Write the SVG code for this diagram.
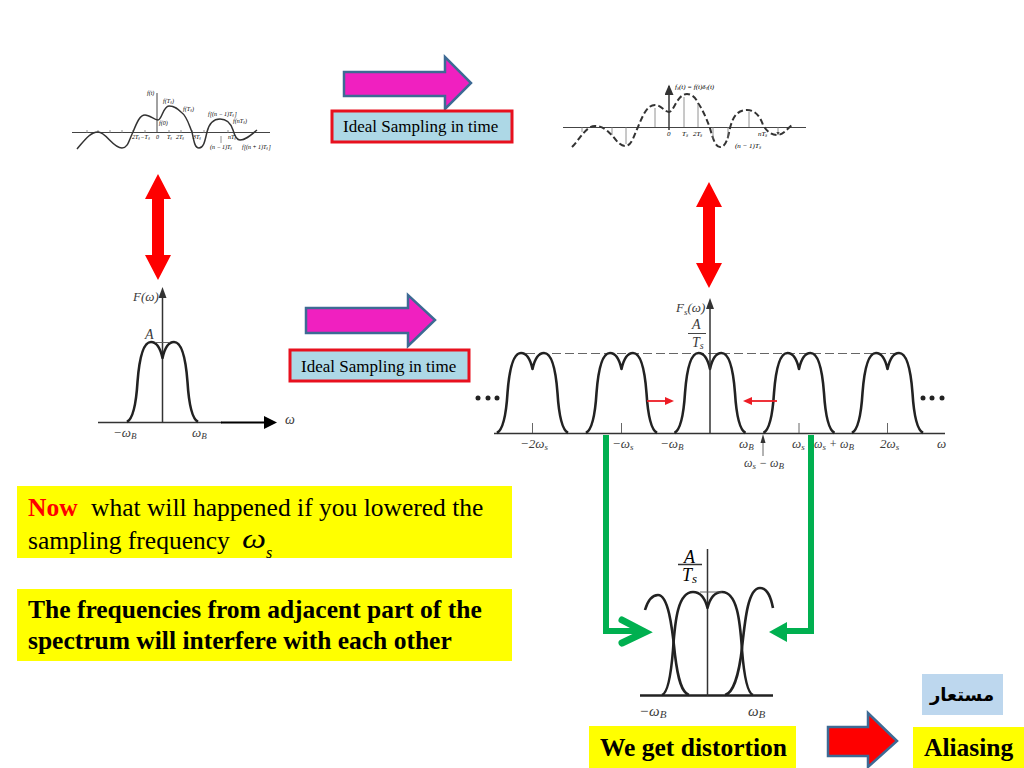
<svg xmlns="http://www.w3.org/2000/svg" xmlns:xlink="http://www.w3.org/1999/xlink" width="1024" height="768" viewBox="0 0 1024 768">
<style>
text{font-family:"Liberation Serif","Times New Roman",serif;fill:#000}
.m{fill:#3a3a3a;font-style:italic}
.c{fill:none;stroke:#222;stroke-width:2.6;stroke-linejoin:round}
.ax{stroke:#333;stroke-width:1.5;fill:none}
.hair{stroke:#444;stroke-width:1;fill:none}
.th{stroke:#555;stroke-width:.9;fill:none}
.fine{stroke:#777;stroke-width:.8;fill:none}
.curve{fill:none;stroke:#333;stroke-width:1.5}
.pk{fill:#f020c0;stroke:#3d6a94;stroke-width:2.5}
.lb{fill:#add8e6;stroke:#e8101e;stroke-width:3}
.red{fill:#fe0000}
.gr{fill:none;stroke:#00b050;stroke-width:6}
.yl{fill:#ffff00}
.big{font-size:25.5px}
.sm{font-size:6px;fill:#666;font-style:italic}
.sm2{font-size:7px;fill:#666;font-style:italic}
</style>
<defs>
<path id="lobe" d="M-35.500 0C-30 -3 -26.500 -16 -25 -40C-23.500 -60 -20 -80 -11.500 -80C-5.500 -80 -2 -73 0 -64C2 -73 5.500 -80 11.500 -80C20 -80 23.500 -60 25 -40C26.500 -16 30 -3 35.500 0"/>
<polygon id="dbl" class="red" points="0,-53 13,-28 6,-28 6,28 13,28 0,53 -13,28 -6,28 -6,-28 -13,-28"/>
<marker id="ah" markerWidth="8" markerHeight="8" refX="6" refY="3" orient="auto"><path d="M0 0L7 3L0 6z" fill="#333"/></marker>
<marker id="st" markerWidth="5" markerHeight="5" refX="2.500" refY="2" orient="auto"><path d="M0 0L4 2L0 4z" fill="#444"/></marker>
</defs>

<g id="time-signal">
<path class="hair" d="M72 132.500H270M157 132V93"/>
<path class="fine" d="M87 130V133M98 130V133M110 130V133M122 130V133M133 130V133M145 130V133M169 130V133M181 130V133M192 130V133M204 130V133M228 130V133M221 143V136"/>
<path class="curve" d="M77 149C84 141 90 132 98 132C106 132 113 148 122 148C128 148 129 140 133 132C137 122 140 115 145 115C150 115 154 120 158 120C162 120 163 106 169 106C175 106 178 109 181 112C187 116 189 125 192 132C194 142 195 148 199 148C204 148 205 140 207 132C209 124 213 119 220 119C227 119 231 124 233 130C235 137 237 140 240 140C246 140 251 135 257 130"/>
<g class="sm">
<text x="147" y="95">f(t)</text><text x="163" y="103">f(Tₛ)</text><text x="183" y="111">f(Tₛ)</text><text x="208" y="116">f[(n − 1)Tₛ]</text><text x="233" y="123">f(nTₛ)</text><text x="159" y="125">f(0)</text>
<text x="132" y="139">2Tₛ−Tₛ</text><text x="156" y="139">0</text><text x="167" y="139">Tₛ</text><text x="176" y="139">2Tₛ</text><text x="193" y="139">3Tₛ</text><text x="228" y="139">nTₛ</text><text x="210" y="149">(n − 1)Tₛ</text><text x="242" y="149">f[(n + 1)Tₛ]</text>
</g>
</g>

<g id="sampled-signal">
<path class="hair" d="M563 127.500H806"/>
<path class="ax" d="M669 130V86" marker-end="url(#ah)"/>
<path fill="none" stroke="#333" stroke-width="2" stroke-dasharray="6 3" d="M572 147C580 139 586 126 595 126C604 126 608 132 612 135C617 142 621 146 625 146C632 146 634 135 638 127C643 115 647 105 655 105C661 105 665 112 669 112C674 112 677 94 687 94C692 94 696 98 698 103C703 110 707 120 710 128C713 140 716 147 720 147C726 147 728 138 730 128C733 116 738 110 747 110C755 110 760 116 763 125C767 132 772 135 777 135C783 135 787 129 792 125"/>
<path class="fine" d="M582 127V132M612 127V135M626 127V144M655 127V108M669 127V113M684 127V97M698 127V104M713 127V139M728 127V139M749 127V112M778 127V134" marker-end="url(#st)"/>
<g class="sm2">
<text x="675" y="89">fₛ(t) = f(t)δₜ(t)</text><text x="667" y="136">0</text><text x="682" y="136">Tₛ</text><text x="693" y="136">2Tₛ</text><text x="758" y="136">nTₛ</text><text x="735" y="148">(n − 1)Tₛ</text>
</g>
</g>

<g id="arrow-top"><polygon class="pk" points="344,72 445,72 445,57 471,83 445,109 445,96 344,96"/></g>
<g id="label-top"><rect class="lb" x="332" y="111" width="180" height="31"/><text x="343" y="132" font-size="17">Ideal Sampling in time</text></g>
<g id="arrow-mid"><polygon class="pk" points="306,308 408,308 408,295 435,320 408,346 408,333 306,333"/></g>
<g id="label-mid"><rect class="lb" x="290" y="350" width="179" height="31"/><text x="301" y="372" font-size="17">Ideal Sampling in time</text></g>

<g id="double-arrow-left"><use xlink:href="#dbl" href="#dbl" x="158" y="227"/></g>
<g id="double-arrow-right"><use xlink:href="#dbl" href="#dbl" x="709" y="235"/></g>

<g id="baseband-spectrum">
<path class="ax" d="M98 422.500H222"/>
<path d="M221 422.500H266" stroke="#000" stroke-width="2.200"/><path d="M264 416L277 422.500L264 429z" fill="#000"/>
<path class="ax" d="M162.500 422V293"/><path d="M158.500 298L162.500 287L166.500 298z" fill="#333"/>
<use class="c" xlink:href="#lobe" href="#lobe" x="162.500" y="422"/>
<path class="th" d="M155 342.500H170"/>
<text class="m" x="133" y="301" font-size="13">F(ω)</text>
<text class="m" x="145" y="339" font-size="14">A</text>
<text class="m" x="113" y="437" font-size="13">−ω<tspan font-size="9" dy="2">B</tspan></text>
<text class="m" x="192" y="437" font-size="13">ω<tspan font-size="9" dy="2">B</tspan></text>
<text class="m" x="285" y="424" font-size="14">ω</text>
</g>

<g id="sampled-spectrum">
<path class="ax" d="M494 433.500H945"/>
<path d="M526 353.500H900" stroke="#666" stroke-width="1" stroke-dasharray="9 4" fill="none"/>
<g class="c">
<use xlink:href="#lobe" href="#lobe" x="532.500" y="433"/>
<use xlink:href="#lobe" href="#lobe" x="621.500" y="433"/>
<use xlink:href="#lobe" href="#lobe" x="710" y="433"/>
<use xlink:href="#lobe" href="#lobe" x="799" y="433"/>
<use xlink:href="#lobe" href="#lobe" x="887.500" y="433"/>
</g>
<path class="ax" d="M710 433V302"/><path d="M706 309L710 298L714 309z" fill="#333"/>
<path class="th" d="M532.500 423V433M621.500 423V433M799 423V433M887.500 423V433"/>
<path class="th" d="M763 456V438"/><path d="M760.500 443L763 434L765.500 443z" fill="#333"/>
<g fill="#222"><circle cx="478" cy="398" r="2.500"/><circle cx="488" cy="398" r="2.500"/><circle cx="497" cy="398" r="2.500"/><circle cx="923" cy="398" r="2.500"/><circle cx="932" cy="398" r="2.500"/><circle cx="942" cy="398" r="2.500"/></g>
<text class="m" x="676" y="312" font-size="13">F<tspan font-size="9" dy="3">s</tspan><tspan dy="-3">(ω)</tspan></text>
<text class="m" x="692" y="329" font-size="14">A</text><path class="hair" d="M688 333.500H706"/><text class="m" x="692" y="347" font-size="14">T<tspan font-size="10" dy="2">s</tspan></text>
<text class="m" x="520" y="448" font-size="13">−2ω<tspan font-size="9" dy="2">s</tspan></text>
<text class="m" x="612" y="448" font-size="13">−ω<tspan font-size="9" dy="2">s</tspan></text>
<text class="m" x="660" y="448" font-size="13">−ω<tspan font-size="9" dy="2">B</tspan></text>
<text class="m" x="739" y="448" font-size="13">ω<tspan font-size="9" dy="2">B</tspan></text>
<text class="m" x="792" y="448" font-size="13">ω<tspan font-size="9" dy="2">s</tspan></text>
<text class="m" x="814" y="448" font-size="12">ω<tspan font-size="9" dy="2">s</tspan><tspan dy="-2"> + ω</tspan><tspan font-size="9" dy="2">B</tspan></text>
<text class="m" x="880" y="448" font-size="13">2ω<tspan font-size="9" dy="2">s</tspan></text>
<text class="m" x="937" y="448" font-size="13">ω</text>
<text class="m" x="744" y="467" font-size="12">ω<tspan font-size="9" dy="2">s</tspan><tspan dy="-2"> − ω</tspan><tspan font-size="9" dy="2">B</tspan></text>
<path d="M647 401H666" stroke="#ed1c24" stroke-width="1.800"/><path d="M665 397L674 401L665 405z" fill="#ed1c24"/>
<path d="M777 401H751" stroke="#ed1c24" stroke-width="1.800"/><path d="M752 397L743 401L752 405z" fill="#ed1c24"/>
</g>

<g id="aliased-spectrum">
<path d="M640 695.500H773" stroke="#222" stroke-width="2.500"/>
<path class="ax" d="M707.500 549V696"/>
<path class="c" d="M645 610C648 600 652 595 658 595C668 595 672 625 675 655C678 680 682 693 689 695"/>
<path class="c" d="M662 695C668 693 671 675 673 650C675 620 678 592 693 592C700 592 705 598 707.500 608C710 598 715 592 722 592C737 592 740 620 742 650C744 675 747 693 753 695"/>
<path class="c" d="M725 695C733 693 739 675 742 648C745 620 748 588 760 588C768 588 771 598 773 608"/>
<path class="th" d="M700 592H722"/>
<text x="684" y="563" font-size="18" font-style="italic" fill="#222">A</text><path d="M678 564.500H702" stroke="#333" stroke-width="1.500"/><text x="682" y="581" font-size="18" font-style="italic" fill="#222">T<tspan font-size="13" dy="2">s</tspan></text>
<text class="m" x="639" y="716" font-size="15">−ω<tspan font-size="11" dy="2">B</tspan></text>
<text class="m" x="748" y="716" font-size="15">ω<tspan font-size="11" dy="2">B</tspan></text>
</g>

<g id="connectors">
<path class="gr" d="M606 435V631H642"/><path class="gr" stroke-linecap="round" d="M622 620L645 632L622 643" style="stroke-width:7"/>
<path class="gr" d="M811 435V631H785"/><path d="M769 632L787 622V642z" fill="#00b050"/>
</g>

<g id="note-now"><rect class="yl" x="17" y="486" width="495" height="72"/>
<text class="big" x="28" y="516"><tspan fill="#fe0000" font-weight="bold">Now</tspan><tspan x="91">what will happened if you lowered the</tspan></text>
<text class="big" x="28" y="549">sampling frequency</text>
<text x="242" y="548" font-size="28" font-style="italic" textLength="24" lengthAdjust="spacingAndGlyphs">ω</text><text x="266" y="558" font-size="16" font-style="italic">s</text></g>
<g id="note-freq"><rect class="yl" x="17" y="589" width="495" height="72"/>
<text class="big" x="28" y="618" font-weight="bold">The frequencies from adjacent part of the</text>
<text class="big" x="28" y="649" font-weight="bold">spectrum will interfere with each other</text></g>
<g id="note-distortion"><rect class="yl" x="589" y="726" width="207" height="42"/><text x="600" y="756" font-size="25.500" font-weight="bold">We get distortion</text></g>
<g id="arrow-aliasing"><polygon points="828,727 868,727 868,713 897,741 868,767 868,756 828,756" fill="#fe0000" stroke="#3d6a94" stroke-width="2.500"/></g>
<g id="note-aliasing"><rect class="yl" x="913" y="727" width="111" height="41"/><text x="924" y="756" font-size="25.500" font-weight="bold">Aliasing</text></g>
<g id="note-arabic"><rect x="922" y="674" width="81" height="41" fill="#bdd7ee"/><text x="962" y="701" font-size="18" font-weight="bold" text-anchor="middle" style="font-family:'Liberation Sans','DejaVu Sans',sans-serif">مستعار</text></g>
</svg>
